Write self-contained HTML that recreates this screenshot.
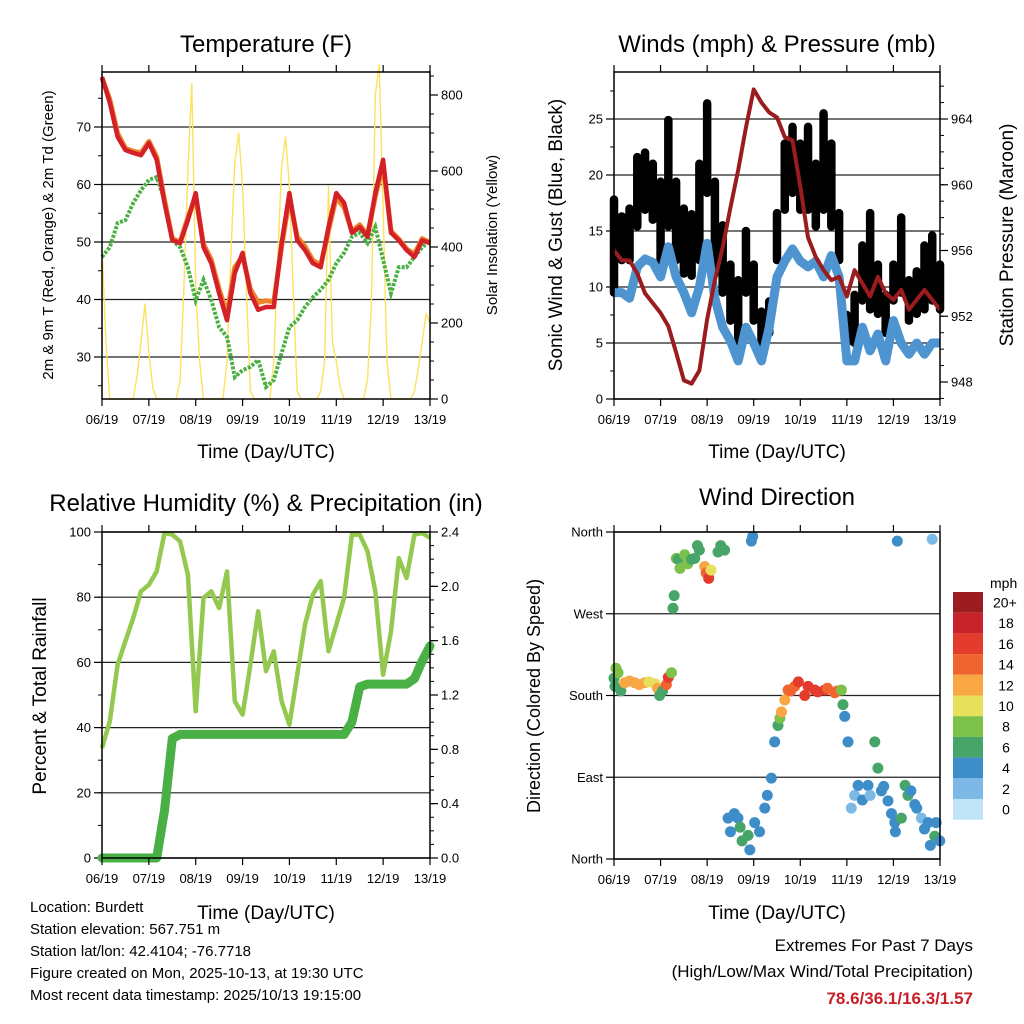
<!DOCTYPE html>
<html><head><meta charset="utf-8"><style>
body{margin:0;background:#fff;}
svg{display:block;font-family:"Liberation Sans",Arial,sans-serif;}
</style></head><body>
<svg id="chart" width="1024" height="1024" viewBox="0 0 1024 1024" xmlns="http://www.w3.org/2000/svg">
<rect width="1024" height="1024" fill="#fff"/>
<text x="266" y="52" font-size="24" text-anchor="middle">Temperature (F)</text>
<text x="777" y="52" font-size="24" text-anchor="middle">Winds (mph) &amp; Pressure (mb)</text>
<text x="266" y="511" font-size="24" text-anchor="middle">Relative Humidity (%) &amp; Precipitation (in)</text>
<text x="777" y="505" font-size="24" text-anchor="middle">Wind Direction</text>
<g font-size="19" text-anchor="middle">
<text x="266" y="458">Time (Day/UTC)</text>
<text x="777" y="458">Time (Day/UTC)</text>
<text x="266" y="919">Time (Day/UTC)</text>
<text x="777" y="919">Time (Day/UTC)</text>
</g>
<text transform="translate(53,235) rotate(-90)" font-size="15" text-anchor="middle">2m &amp; 9m T (Red, Orange) &amp; 2m Td (Green)</text>
<text transform="translate(497,235) rotate(-90)" font-size="15" text-anchor="middle">Solar Insolation (Yellow)</text>
<text transform="translate(562,235) rotate(-90)" font-size="19" text-anchor="middle">Sonic Wind &amp; Gust (Blue, Black)</text>
<text transform="translate(1013,235) rotate(-90)" font-size="19" text-anchor="middle">Station Pressure (Maroon)</text>
<text transform="translate(46,696) rotate(-90)" font-size="19" text-anchor="middle">Percent &amp; Total Rainfall</text>
<text transform="translate(540,696) rotate(-90)" font-size="18" text-anchor="middle">Direction (Colored By Speed)</text>
<g font-size="15">
<text x="30" y="912">Location: Burdett</text>
<text x="30" y="934">Station elevation: 567.751 m</text>
<text x="30" y="956">Station lat/lon: 42.4104; -76.7718</text>
<text x="30" y="978">Figure created on Mon, 2025-10-13, at 19:30 UTC</text>
<text x="30" y="1000">Most recent data timestamp: 2025/10/13 19:15:00</text>
</g>
<g font-size="17" text-anchor="end">
<text x="973" y="951">Extremes For Past 7 Days</text>
<text x="973" y="977">(High/Low/Max Wind/Total Precipitation)</text>
<text x="973" y="1004" font-weight="bold" fill="#c8202a">78.6/36.1/16.3/1.57</text>
</g>
<g id="layer"></g>
</svg>
<script>
// ---------- data ----------
const dayLabels = ["06/19","07/19","08/19","09/19","10/19","11/19","12/19","13/19"];
const hours4 = [0,4,8,12,16,20,24,28,32,36,40,44,48,52,56,60,64,68,72,76,80,84,88,92,96,100,104,108,112,116,120,124,128,132,136,140,144,148,152,156,160,164,168];
const tempRed = [78.7,74.2,68.3,66.0,65.5,65.1,67.2,64.3,56.8,50.3,49.8,53.8,58.5,49.1,46.3,41.1,36.4,44.6,48.1,41.1,38.2,38.7,38.7,49.8,58.5,50.3,48.6,46.3,45.6,52.6,58.5,56.8,51.6,52.6,50.9,58.5,64.3,51.6,50.3,48.6,47.4,50.3,49.8];
const tempOrange = [78.5,74.8,68.9,66.3,65.8,65.5,67.5,64.8,57.3,50.6,50.0,54.3,57.8,49.6,46.9,41.8,37.5,45.6,47.5,41.8,39.5,39.8,39.6,49.2,57.6,50.9,49.2,46.8,46.0,52.0,57.8,56.0,51.9,53.0,51.2,57.9,63.5,51.9,50.5,48.8,47.9,50.6,49.9];
const dewGreen = [47.4,49.1,53.3,53.8,56.8,59.0,60.8,61.3,57.3,50.3,49.1,45.6,39.9,43.4,39.9,35.2,33.5,26.5,27.7,28.3,29.5,24.8,26.0,30.7,35.2,36.4,38.7,40.4,41.7,43.4,46.3,48.1,50.9,51.6,49.8,52.6,46.9,41.1,45.6,45.6,47.4,49.1,50.3];
const solar2h = [400,150,0,0,0,0,0,0,0,60,150,250,120,30,0,0,0,0,0,0,50,300,600,830,300,100,0,0,0,0,0,0,100,380,620,700,560,280,20,0,0,0,0,0,100,370,610,690,560,280,20,0,0,0,0,0,20,100,560,150,100,30,0,0,0,0,0,0,50,250,800,880,500,100,0,0,0,0,0,0,20,80,150,225,200];
const windMean = [9.5,9.5,9.0,11.8,12.5,12.2,10.9,13.6,10.9,9.5,7.7,10.0,13.9,9.0,6.4,5.2,3.4,6.4,5.0,3.4,6.4,10.9,12.3,13.4,12.3,11.8,12.3,10.9,12.8,10.9,3.4,3.4,6.4,4.3,5.8,3.4,7.0,5.0,4.0,5.0,4.0,5.0,5.0];
const gustHigh = [17.8,16.3,17.0,21.6,22.0,21.0,19.4,24.9,19.4,17.0,16.5,21.0,26.4,19.4,15.5,12.0,10.6,15.0,12.0,7.8,8.7,16.6,22.8,24.3,22.8,24.3,21.0,25.5,22.8,16.6,7.5,9.3,13.7,16.6,12.0,9.3,12.0,16.2,10.6,11.4,13.7,14.6,12.0];
const gustLow = [9.5,12.4,12.4,15.4,16.9,16.0,12.4,15.4,12.4,11.2,11.0,12.4,18.4,11.2,9.5,7.0,4.7,9.5,7.0,4.1,5.9,12.4,16.9,18.4,16.9,16.9,15.4,16.9,15.4,12.4,5.0,5.0,8.8,8.0,7.6,5.9,8.8,9.5,7.0,7.6,8.0,8.8,8.0];
const pressure = [956.0,955.4,955.4,954.6,953.4,952.8,952.2,951.4,949.8,948.1,947.9,948.7,951.8,954.2,956.2,958.6,960.9,963.5,965.8,965.0,964.4,964.1,962.9,962.7,959.9,956.8,955.6,954.8,954.2,954.4,953.2,954.8,954.0,953.2,954.4,953.4,953.0,953.6,952.4,953.0,953.6,953.0,952.4];
const rhPct = [33.7,41.9,59.3,66.5,73.6,81.8,83.8,87.9,99.7,99.2,97.1,86.9,45.0,79.8,81.8,76.7,87.9,48.1,44.0,59.3,75.7,57.3,63.4,48.1,40.9,56.2,71.6,80.8,84.9,63.4,71.6,79.8,99.2,99.2,94.1,81.8,56.2,69.5,92.0,85.9,99.2,99.7,98.2];
const precipIn = [0,0,0,0,0,0,0,0,0.35,0.88,0.91,0.91,0.91,0.91,0.91,0.91,0.91,0.91,0.91,0.91,0.91,0.91,0.91,0.91,0.91,0.91,0.91,0.91,0.91,0.91,0.91,0.91,1.0,1.26,1.28,1.28,1.28,1.28,1.28,1.28,1.32,1.45,1.56];
const dirHours = [0,0.5,1,2.1,3.5,5.5,8,10.7,13,15.8,18,21,22.5,23.5,25,27,28,29.6,30.4,31,32.1,33,34,36.4,38,40,41.6,43,44,46.7,47.5,48.8,50,53.6,55,57,58.8,60,62,63.9,65,66,69.1,70,70.8,71.5,72.5,75,77.7,79,81.1,82.8,84.5,85.5,86.3,88,89.7,91,93.1,95,98.3,100,103.4,105,108.6,110,113.7,115,117.2,118,118.9,120.6,122.3,124,125.8,128,130.9,132,134.4,136,137.8,139,141.2,143,144.7,145,146,148.1,150,151.5,153,155,156,158.4,160,161.9,163,164,165.3,166,167.9];
const dirDeg = [199,190,210,205,185,194,196,194,192,194,195,193,188,180,185,192,200,205,276,290,331,330,320,335,325,330,331,345,340,322,315,309,318,338,345,340,45,30,50,45,35,20,26,10,350,355,40,30,56,70,89,129,147,155,162,175,186,185,190,195,180,190,186,184,186,188,183,185,186,170,157,129,56,70,81,65,81,70,129,100,75,80,64,50,40,30,350,45,81,70,75,60,56,45,33,40,15,352,25,40,20,51];
const dirSpeed = [7,6,8,8,7,12,12,12,12,12,11,11,12,6,7,15,16,9,7,7,8,7,9,9,8,7,7,6,7,12,14,17,10,7,6,6,4,4,4,4,6,6,6,4,5,5,4,4,4,4,4,4,6,8,12,13,15,14,14,16,16,17,16,16,17,15,15,14,8,6,4,4,2,3,4,4,4,3,7,6,4,4,4,4,4,4,4,6,6,6,4,4,4,3,4,4,4,2,6,4,4,4];
const speedLabels = ["20+","18","16","14","12","10","8","6","4","2","0"];
const speedColors = ["#9b1b1e","#c8232a","#e33b2c","#f0642f","#f8a744","#e6e05c","#7cc24a","#48a56a","#3c8dc8","#7db9e6","#bfe4f8"];

// ---------- helpers ----------
const NS = "http://www.w3.org/2000/svg";
const layer = document.getElementById("layer");
function mk(tag, attrs, parent) {
  const e = document.createElementNS(NS, tag);
  for (const k in attrs) e.setAttribute(k, attrs[k]);
  (parent || layer).appendChild(e);
  return e;
}
function lin(d0, d1, r0, r1) { return v => r0 + (v - d0) / (d1 - d0) * (r1 - r0); }
function pathFrom(xs, ys, fx, fy) {
  return xs.map((h, i) => (i ? "L" : "M") + fx(h).toFixed(1) + "," + fy(ys[i]).toFixed(1)).join(" ");
}

function panel(name, x0, x1, y0, y1) {
  const g = mk("g", {});
  
  
  const fx = lin(0, 168, x0, x1);
  return {g, x0, x1, y0, y1, fx};
}
function frame(p) {
  const r = mk("rect", {x: p.x0, y: p.y0, width: p.x1 - p.x0, height: p.y1 - p.y0, fill: "none", stroke: "#000", "stroke-width": 1.5}, p.g);
  
  
  for (let i = 0; i < dayLabels.length; i++) {
    const x = p.fx(i * 24);
    mk("line", {x1: x, x2: x, y1: p.y1, y2: p.y1 + 7, stroke: "#000", "stroke-width": 1.2}, p.g);
    mk("line", {x1: x, x2: x, y1: p.y0, y2: p.y0 - 7, stroke: "#000", "stroke-width": 1.2}, p.g);
    const t = mk("text", {x: x, y: p.y1 + 25, "font-size": 13, "text-anchor": "middle"}, p.g);
    t.textContent = dayLabels[i];
    
    
  }
}
function leftAxis(p, fy, ticks, minor, fmt, grid) {
  ticks.forEach(v => {
    const y = fy(v);
    if (grid) mk("line", {x1: p.x0, x2: p.x1, y1: y, y2: y, stroke: "#222", "stroke-width": 1.2}, p.g);
    mk("line", {x1: p.x0 - 8, x2: p.x0, y1: y, y2: y, stroke: "#000", "stroke-width": 1.2}, p.g);
    const t = mk("text", {x: p.x0 - 11, y: y + 4.5, "font-size": 13, "text-anchor": "end"}, p.g);
    t.textContent = fmt(v);
    
    
  });
  minor.forEach(v => { const y = fy(v); mk("line", {x1: p.x0 - 4, x2: p.x0, y1: y, y2: y, stroke: "#000"}, p.g); });
}
function rightAxis(p, fy, ticks, minor, fmt) {
  ticks.forEach(v => {
    const y = fy(v);
    mk("line", {x1: p.x1, x2: p.x1 + 8, y1: y, y2: y, stroke: "#000", "stroke-width": 1.2}, p.g);
    const t = mk("text", {x: p.x1 + 11, y: y + 4.5, "font-size": 13, "text-anchor": "start"}, p.g);
    t.textContent = fmt(v);
    
    
  });
  minor.forEach(v => { const y = fy(v); if (y >= p.y0 && y <= p.y1) mk("line", {x1: p.x1, x2: p.x1 + 4, y1: y, y2: y, stroke: "#000"}, p.g); });
}
function range(a, b, s) { const r = []; for (let v = a; v <= b + 1e-9; v += s) r.push(+v.toFixed(3)); return r; }

// ---------- temperature panel ----------
const pT = panel("temperature-panel", 102, 430, 72, 399);
const fyT = lin(30, 70, 357, 127);
const fyS = lin(0, 800, 399, 95);
leftAxis(pT, fyT, [30,40,50,60,70], range(25,75,5), v => v, true);
rightAxis(pT, fyS, [0,200,400,600,800], range(0,850,50), v => v);
const hours2 = solar2h.map((v, i) => i * 2);
let e;
e = mk("path", {d: pathFrom(hours2, solar2h, pT.fx, fyS), fill: "none", stroke: "#fde25e", "stroke-width": 1.4, "stroke-linejoin": "round"}, pT.g);


e = mk("path", {d: pathFrom(hours4, dewGreen, pT.fx, fyT), fill: "none", stroke: "#4bb043", "stroke-width": 4, "stroke-dasharray": "3 1.5"}, pT.g);


e = mk("path", {d: pathFrom(hours4, tempOrange, pT.fx, fyT), fill: "none", stroke: "#f0822a", "stroke-width": 5, "stroke-linejoin": "round"}, pT.g);


e = mk("path", {d: pathFrom(hours4, tempRed, pT.fx, fyT), fill: "none", stroke: "#d42027", "stroke-width": 4.5, "stroke-linejoin": "round"}, pT.g);


frame(pT);

// ---------- winds panel ----------
const pW = panel("winds-panel", 614, 940, 72, 399);
const fyW = lin(0, 25, 399, 119);
const fyP = lin(948, 964, 382, 119);
leftAxis(pW, fyW, [0,5,10,15,20,25], range(0,29,2.5), v => v, true);
rightAxis(pW, fyP, [948,952,956,960,964], range(947,966,1), v => v);
hours4.forEach((h, i) => {
  const x = pW.fx(h);
  const c = mk("line", {x1: x, x2: x, y1: fyW(gustLow[i]), y2: fyW(gustHigh[i]), stroke: "#000", "stroke-width": 8.5, "stroke-linecap": "round"}, pW.g);
  
  
});
e = mk("path", {d: pathFrom(hours4, windMean, pW.fx, fyW), fill: "none", stroke: "#4d94d0", "stroke-width": 9, "stroke-linejoin": "round"}, pW.g);


e = mk("path", {d: pathFrom(hours4, pressure, pW.fx, fyP), fill: "none", stroke: "#9b1c1f", "stroke-width": 4, "stroke-linejoin": "round"}, pW.g);


frame(pW);

// ---------- humidity panel ----------
const pR = panel("humidity-panel", 102, 430, 532, 858);
const fyR = lin(0, 100, 858, 532);
const fyPr = lin(0, 2.4, 858, 532);
leftAxis(pR, fyR, [0,20,40,60,80,100], range(0,100,10), v => v, true);
rightAxis(pR, fyPr, [0,0.4,0.8,1.2,1.6,2.0,2.4], range(0,2.4,0.1), v => v.toFixed(1));
e = mk("path", {d: pathFrom(hours4, rhPct, pR.fx, fyR), fill: "none", stroke: "#93c94f", "stroke-width": 4.5, "stroke-linejoin": "round"}, pR.g);


e = mk("path", {d: pathFrom(hours4, precipIn, pR.fx, fyPr), fill: "none", stroke: "#48b045", "stroke-width": 9, "stroke-linejoin": "round", "stroke-linecap": "round"}, pR.g);


frame(pR);

// ---------- wind direction panel ----------
const pD = panel("wind-direction-panel", 614, 940, 532, 859);
const fyD = lin(0, 360, 859, 532);
leftAxis(pD, fyD, [0,90,180,270,360], [], v => ["North","East","South","West","North"][v / 90], true);
dirHours.forEach((h, i) => {
  const idx = Math.max(0, 10 - Math.min(10, Math.floor(dirSpeed[i] / 2)));
  const c = mk("circle", {cx: pD.fx(h), cy: fyD(dirDeg[i]), r: 5.5, fill: speedColors[idx]}, pD.g);
  
  
});
frame(pD);

// colorbar
const cb = mk("g", {});


e = mk("text", {x: 990, y: 588, "font-size": 14, "text-anchor": "start"}, cb);
e.textContent = "mph";
speedLabels.forEach((lab, i) => {
  const y = 592 + i * 20.7;
  const r = mk("rect", {x: 953, y: y, width: 30, height: 20.7, fill: speedColors[i]}, cb);
  
  
  const t = mk("text", {x: i === 0 ? 993 : 1006, y: y + 15.5, "font-size": 14, "text-anchor": i === 0 ? "start" : "middle"}, cb);
  t.textContent = lab;
  
  
});
</script>
</body></html>
